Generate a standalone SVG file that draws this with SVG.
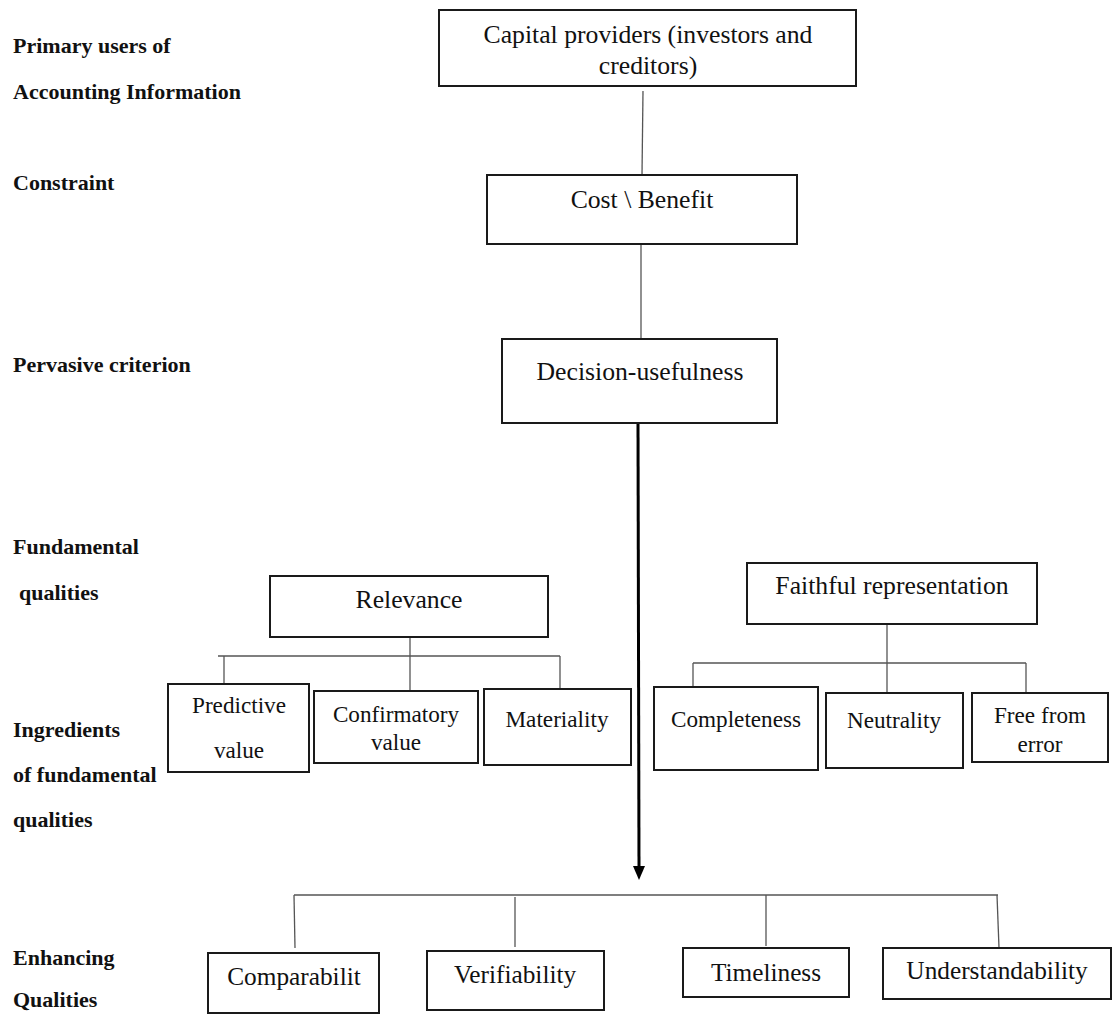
<svg xmlns="http://www.w3.org/2000/svg" width="1113" height="1023" viewBox="0 0 1113 1023">
<style>
.bg{fill:#fff}
.box{fill:#fff;stroke:#1a1a1a;stroke-width:2}
.t{font-family:"Liberation Serif","Times New Roman",serif;font-size:25.7px;fill:#111;text-anchor:middle}
.tb{font-family:"Liberation Serif","Times New Roman",serif;font-size:25.3px;fill:#111;text-anchor:middle}
.ts{font-family:"Liberation Serif","Times New Roman",serif;font-size:23.2px;fill:#111;text-anchor:middle}
.lab{font-family:"Liberation Serif","Times New Roman",serif;font-size:22px;font-weight:bold;fill:#111}
.ln{stroke:#555;stroke-width:1.3;fill:none}
.arr{stroke:#000;stroke-width:3;fill:none}
</style>
<rect class="bg" x="0" y="0" width="1113" height="1023"/>

<g id="labels">
<text class="lab" x="13" y="53">Primary users of</text>
<text class="lab" x="13" y="99">Accounting Information</text>
<text class="lab" x="13" y="190">Constraint</text>
<text class="lab" x="13" y="372">Pervasive criterion</text>
<text class="lab" x="13" y="554">Fundamental</text>
<text class="lab" x="19" y="600">qualities</text>
<text class="lab" x="13" y="737">Ingredients</text>
<text class="lab" x="13" y="782">of fundamental</text>
<text class="lab" x="13" y="827">qualities</text>
<text class="lab" x="13" y="965">Enhancing</text>
<text class="lab" x="13" y="1007">Qualities</text>
</g>

<g id="connectors">
<line class="ln" x1="643" y1="91" x2="642" y2="175"/>
<line class="ln" x1="641" y1="244" x2="641" y2="339"/>
<line class="arr" x1="638" y1="423" x2="639" y2="868"/>
<path d="M633,866 L645,866 L639,880 Z" fill="#000"/>
<line class="ln" x1="410" y1="637" x2="410" y2="690"/>
<line class="ln" x1="218" y1="656" x2="560" y2="656"/>
<line class="ln" x1="224" y1="656" x2="224" y2="684"/>
<line class="ln" x1="560" y1="656" x2="560" y2="689"/>
<line class="ln" x1="887" y1="624" x2="887" y2="694"/>
<line class="ln" x1="693" y1="663" x2="1026" y2="663"/>
<line class="ln" x1="693" y1="663" x2="693" y2="687"/>
<line class="ln" x1="1026" y1="663" x2="1026" y2="693"/>
<line class="ln" x1="294" y1="895" x2="998" y2="895"/>
<line class="ln" x1="294" y1="895" x2="295" y2="948"/>
<line class="ln" x1="515" y1="897" x2="515" y2="947"/>
<line class="ln" x1="766" y1="895" x2="766" y2="946"/>
<line class="ln" x1="997" y1="895" x2="999" y2="948"/>
</g>

<g id="capital">
<rect class="box" x="439" y="10" width="417" height="76"/>
<text class="t" x="648" y="43">Capital providers (investors and</text>
<text class="t" x="648" y="74">creditors)</text>
</g>
<g id="cost">
<rect class="box" x="487" y="175" width="310" height="69"/>
<text class="t" x="642" y="208">Cost \ Benefit</text>
</g>
<g id="decision">
<rect class="box" x="502" y="339" width="275" height="84"/>
<text class="t" x="640" y="380">Decision-usefulness</text>
</g>

<g id="relevance">
<rect class="box" x="270" y="576" width="278" height="61"/>
<text class="t" x="409" y="608">Relevance</text>
</g>
<g id="predictive">
<rect class="box" x="168" y="684" width="141" height="88"/>
<text class="ts" x="239" y="713">Predictive</text>
<text class="ts" x="239" y="758">value</text>
</g>
<g id="confirmatory">
<rect class="box" x="314" y="691" width="164" height="72"/>
<text class="ts" x="396" y="722">Confirmatory</text>
<text class="ts" x="396" y="750">value</text>
</g>
<g id="materiality">
<rect class="box" x="484" y="689" width="147" height="76"/>
<text class="ts" x="557" y="727">Materiality</text>
</g>

<g id="faithful">
<rect class="box" x="747" y="563" width="290" height="61"/>
<text class="t" x="892" y="594">Faithful representation</text>
</g>
<g id="completeness">
<rect class="box" x="654" y="687" width="164" height="83"/>
<text class="ts" x="736" y="727">Completeness</text>
</g>
<g id="neutrality">
<rect class="box" x="826" y="693" width="137" height="75"/>
<text class="ts" x="894" y="728">Neutrality</text>
</g>
<g id="freefromerror">
<rect class="box" x="972" y="693" width="136" height="69"/>
<text class="ts" x="1040" y="723">Free from</text>
<text class="ts" x="1040" y="752">error</text>
</g>

<g id="comparability">
<rect class="box" x="208" y="953" width="171" height="60"/>
<text class="tb" x="294" y="985">Comparabilit</text>
</g>
<g id="verifiability">
<rect class="box" x="427" y="951" width="177" height="59"/>
<text class="tb" x="515" y="983">Verifiability</text>
</g>
<g id="timeliness">
<rect class="box" x="683" y="948" width="166" height="49"/>
<text class="tb" x="766" y="981">Timeliness</text>
</g>
<g id="understandability">
<rect class="box" x="883" y="948" width="228" height="51"/>
<text class="tb" x="997" y="979">Understandability</text>
</g>
</svg>
